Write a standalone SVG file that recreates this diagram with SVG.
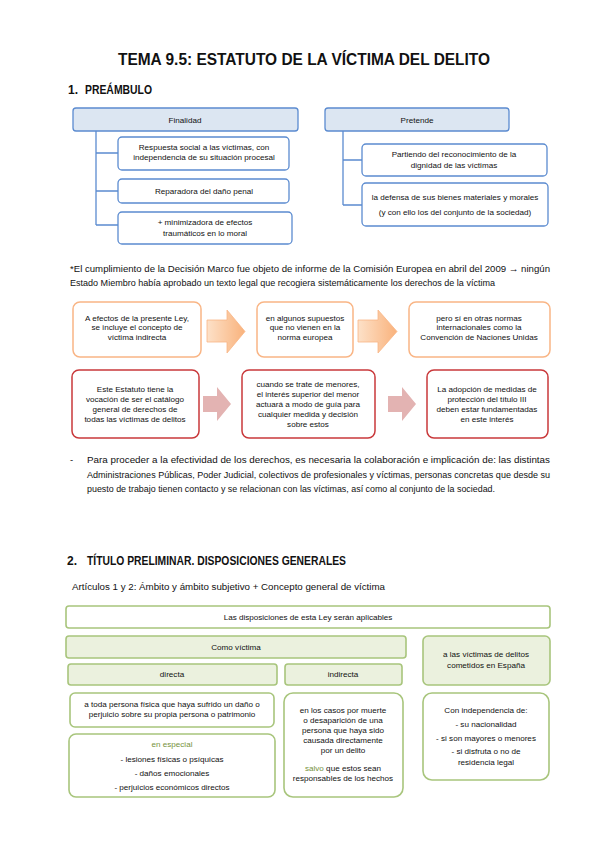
<svg xmlns="http://www.w3.org/2000/svg" width="599" height="848" viewBox="0 0 599 848">
<defs>
<style>
text{font-family:"Liberation Sans",Arial,sans-serif;fill:#111}
.t{font-size:8.1px;text-anchor:middle}
.p{font-size:9.4px}
.h{font-weight:bold;font-size:12px;fill:#111}
.blue{fill:#ffffff;stroke:#5b8bd0;stroke-width:1.3}
.bluehead{fill:#dce6f2;stroke:#5b8bd0;stroke-width:1.3}
.orange{fill:#ffffff;stroke:#f9b585;stroke-width:1.5}
.red{fill:#ffffff;stroke:#c9393b;stroke-width:1.5}
.green{fill:#ffffff;stroke:#a8c57c;stroke-width:1.6}
.greenf{fill:#ebf1de;stroke:#a8c57c;stroke-width:1.6}
.conn{stroke:#5b8bd0;stroke-width:1.3;fill:none}
.oarrow{fill:url(#og);stroke:#f9b585;stroke-width:0.8}
.parrow{fill:#e3b3b2}
.g{fill:#76923c}
</style>
<linearGradient id="og" x1="0" y1="0" x2="1" y2="0">
<stop offset="0" stop-color="#fde1c8"/>
<stop offset="1" stop-color="#f9b27c"/>
</linearGradient>
</defs>

<text x="304" y="65" style="font-size:16px;font-weight:bold;text-anchor:middle;fill:#111" textLength="372" lengthAdjust="spacingAndGlyphs">TEMA 9.5: ESTATUTO DE LA VÍCTIMA DEL DELITO</text>

<text class="h" x="68" y="94">1.</text>
<text class="h" x="85" y="94" textLength="67" lengthAdjust="spacingAndGlyphs">PREÁMBULO</text>

<g id="connectors">
<path class="conn" d="M96,131 V225 M96,153 H118 M96,191 H118 M96,225 H118"/>
<path class="conn" d="M343,131 V205 M343,160 H362 M343,205 H362"/>
<polygon class="oarrow" points="207,320 227,320 227,310 245,331.5 227,353 227,342 207,342"/>
<polygon class="oarrow" points="358,320 378,320 378,310 397,331.5 378,353 378,342 358,342"/>
<polygon class="parrow" points="203,396 217,396 217,387 231,404 217,421 217,412 203,412"/>
<polygon class="parrow" points="388,396 402,396 402,387 416,404 402,421 402,412 388,412"/>
</g>

<g id="finalidad">
<rect class="bluehead" x="73" y="108" width="225" height="23" rx="3"/>
<text class="t" x="185" y="123">Finalidad</text>
</g>
<g id="respuesta">
<rect class="blue" x="118" y="137" width="171" height="33" rx="4"/>
<text class="t" x="204" y="150">Respuesta social a las víctimas, con</text>
<text class="t" x="204" y="160">independencia de su situación procesal</text>
</g>
<g id="reparadora">
<rect class="blue" x="118" y="179" width="171" height="24" rx="4"/>
<text class="t" x="204" y="194">Reparadora del daño penal</text>
</g>
<g id="minimizadora">
<rect class="blue" x="118" y="212" width="174" height="32" rx="4"/>
<text class="t" x="205" y="225">+ minimizadora de efectos</text>
<text class="t" x="205" y="236">traumáticos en lo moral</text>
</g>

<g id="pretende">
<rect class="bluehead" x="325" y="108" width="184" height="23" rx="3"/>
<text class="t" x="417" y="123">Pretende</text>
</g>
<g id="partiendo">
<rect class="blue" x="362" y="144" width="185" height="32" rx="4"/>
<text class="t" x="454" y="157">Partiendo del reconocimiento de la</text>
<text class="t" x="454" y="168">dignidad de las víctimas</text>
</g>
<g id="defensa">
<rect class="blue" x="362" y="183" width="186" height="43" rx="4"/>
<text class="t" x="455" y="200">la defensa de sus bienes materiales y morales</text>
<text class="t" x="455" y="215">(y con ello los del conjunto de la sociedad)</text>
</g>

<text class="p" x="70" y="272" textLength="480" lengthAdjust="spacingAndGlyphs">*El cumplimiento de la Decisión Marco fue objeto de informe de la Comisión Europea en abril del 2009 → ningún</text>
<text class="p" x="70" y="286" textLength="425" lengthAdjust="spacingAndGlyphs">Estado Miembro había aprobado un texto legal que recogiera sistemáticamente los derechos de la víctima</text>

<g id="efectos">
<rect class="orange" x="73" y="302" width="128" height="55" rx="7"/>
<text class="t" x="137" y="321">A efectos de la presente Ley,</text>
<text class="t" x="137" y="330">se incluye el concepto de</text>
<text class="t" x="137" y="340">víctima indirecta</text>
</g>
<g id="supuestos">
<rect class="orange" x="257" y="302" width="96" height="55" rx="7"/>
<text class="t" x="305" y="321">en algunos supuestos</text>
<text class="t" x="305" y="330">que no vienen en la</text>
<text class="t" x="305" y="340">norma europea</text>
</g>
<g id="otras">
<rect class="orange" x="409" y="302" width="141" height="55" rx="7"/>
<text class="t" x="479" y="321">pero sí en otras normas</text>
<text class="t" x="479" y="330">internacionales como la</text>
<text class="t" x="479" y="340">Convención de Naciones Unidas</text>
</g>

<g id="estatuto">
<rect class="red" x="72" y="370" width="127" height="68" rx="7"/>
<text class="t" x="135" y="392">Este Estatuto tiene la</text>
<text class="t" x="135" y="402">vocación de ser el catálogo</text>
<text class="t" x="135" y="412">general de derechos de</text>
<text class="t" x="135" y="422">todas las víctimas de delitos</text>
</g>
<g id="menores">
<rect class="red" x="242" y="370" width="133" height="68" rx="7"/>
<text class="t" x="308" y="387">cuando se trate de menores,</text>
<text class="t" x="308" y="397">el interés superior del menor</text>
<text class="t" x="308" y="407">actuará a modo de guía para</text>
<text class="t" x="308" y="417">cualquier medida y decisión</text>
<text class="t" x="308" y="427">sobre estos</text>
</g>
<g id="adopcion">
<rect class="red" x="427" y="370" width="121" height="68" rx="7"/>
<text class="t" x="487" y="392">La adopción de medidas de</text>
<text class="t" x="487" y="402">protección del título III</text>
<text class="t" x="487" y="412">deben estar fundamentadas</text>
<text class="t" x="487" y="422">en este interés</text>
</g>

<text class="p" x="70" y="463">-</text>
<text class="p" x="87" y="463" textLength="463" lengthAdjust="spacingAndGlyphs">Para proceder a la efectividad de los derechos, es necesaria la colaboración e implicación de: las distintas</text>
<text class="p" x="87" y="478" textLength="463" lengthAdjust="spacingAndGlyphs">Administraciones Públicas, Poder Judicial, colectivos de profesionales y víctimas, personas concretas que desde su</text>
<text class="p" x="87" y="492" textLength="408" lengthAdjust="spacingAndGlyphs">puesto de trabajo tienen contacto y se relacionan con las víctimas, así como al conjunto de la sociedad.</text>

<text class="h" x="67" y="565">2.</text>
<text class="h" x="87" y="565" textLength="259" lengthAdjust="spacingAndGlyphs">TÍTULO PRELIMINAR. DISPOSICIONES GENERALES</text>
<text x="72" y="590" style="font-size:9.6px" textLength="313" lengthAdjust="spacingAndGlyphs">Artículos 1 y 2: Ámbito y ámbito subjetivo + Concepto general de víctima</text>

<g id="disposiciones">
<rect class="green" x="66" y="606" width="484" height="22" rx="3"/>
<text class="t" x="308" y="620">Las disposiciones de esta Ley serán aplicables</text>
</g>
<g id="como-victima">
<rect class="greenf" x="66" y="636" width="340" height="22" rx="3"/>
<text class="t" x="236" y="650">Como víctima</text>
</g>
<g id="espana">
<rect class="greenf" x="423" y="636" width="127" height="49" rx="5"/>
<text class="t" x="486" y="657">a las víctimas de delitos</text>
<text class="t" x="486" y="668">cometidos en España</text>
</g>
<g id="directa">
<rect class="greenf" x="68" y="664" width="209" height="21" rx="3"/>
<text class="t" x="172" y="677">directa</text>
</g>
<g id="indirecta">
<rect class="greenf" x="285" y="664" width="117" height="21" rx="3"/>
<text class="t" x="343" y="677">indirecta</text>
</g>
<g id="persona-fisica">
<rect class="green" x="70" y="693" width="204" height="34" rx="5"/>
<text class="t" x="172" y="707">a toda persona física que haya sufrido un daño o</text>
<text class="t" x="172" y="717">perjuicio sobre su propia persona o patrimonio</text>
</g>
<g id="especial">
<rect class="green" x="69" y="734" width="206" height="63" rx="7"/>
<text class="t g" x="172" y="747">en especial</text>
<text class="t" x="172" y="762">- lesiones físicas o psíquicas</text>
<text class="t" x="172" y="776">- daños emocionales</text>
<text class="t" x="172" y="790">- perjuicios económicos directos</text>
</g>
<g id="casos-muerte">
<rect class="green" x="284" y="693" width="119" height="104" rx="9"/>
<text class="t" x="343" y="713">en los casos por muerte</text>
<text class="t" x="343" y="723">o desaparición de una</text>
<text class="t" x="343" y="733">persona que haya sido</text>
<text class="t" x="343" y="743">causada directamente</text>
<text class="t" x="343" y="753">por un delito</text>
<text class="t" x="343" y="771"><tspan class="g">salvo</tspan> que estos sean</text>
<text class="t" x="343" y="781">responsables de los hechos</text>
</g>
<g id="independencia">
<rect class="green" x="423" y="693" width="126" height="87" rx="9"/>
<text class="t" x="486" y="713">Con independencia de:</text>
<text class="t" x="486" y="727">- su nacionalidad</text>
<text class="t" x="486" y="741">- si son mayores o menores</text>
<text class="t" x="486" y="754">- si disfruta o no de</text>
<text class="t" x="486" y="765">residencia legal</text>
</g>
</svg>
